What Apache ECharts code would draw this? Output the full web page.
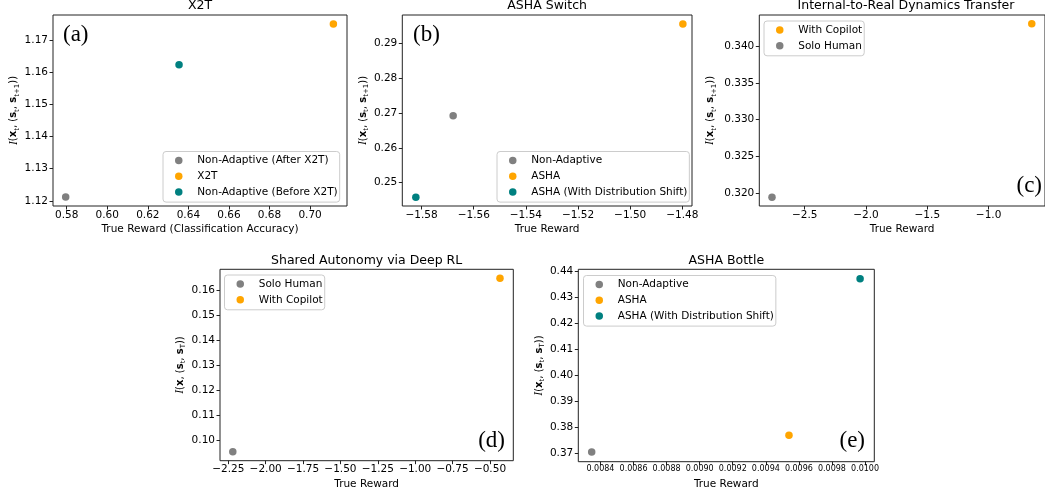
<!DOCTYPE html>
<html>
<head>
<meta charset="utf-8">
<script src="https://cdn.jsdelivr.net/npm/echarts@6/dist/echarts.min.js"></script>
<style>
html,body{margin:0;padding:0;background:#fff;}
#chart{width:1045px;height:494px;}
</style>
</head>
<body>
<div id="chart"></div>
<script>
// ---------------- DATA ----------------
const titleA = 'X2T';
const namesA = ['Non-Adaptive (After X2T)', 'X2T', 'Non-Adaptive (Before X2T)'];
const xA = [0.5795, 0.7115, 0.6354];
const yA = [1.1212, 1.1750, 1.1623];
const xTicksA = [0.58, 0.60, 0.62, 0.64, 0.66, 0.68, 0.70];
const yTicksA = [1.12, 1.13, 1.14, 1.15, 1.16, 1.17];

const titleB = 'ASHA Switch';
const namesB = ['Non-Adaptive', 'ASHA', 'ASHA (With Distribution Shift)'];
const xB = [-1.5679, -1.4798, -1.5822];
const yB = [0.2692, 0.2955, 0.2458];
const xTicksB = [-1.58, -1.56, -1.54, -1.52, -1.50, -1.48];
const yTicksB = [0.25, 0.26, 0.27, 0.28, 0.29];

const titleC = 'Internal-to-Real Dynamics Transfer';
const namesC = ['With Copilot', 'Solo Human'];
const xC = [-0.648, -2.767];
const yC = [0.3430, 0.3195];
const xTicksC = [-2.5, -2.0, -1.5, -1.0];
const yTicksC = [0.320, 0.325, 0.330, 0.335, 0.340];

const titleD = 'Shared Autonomy via Deep RL';
const namesD = ['Solo Human', 'With Copilot'];
const xD = [-2.22, -0.433];
const yD = [0.0953, 0.1647];
const xTicksD = [-2.25, -2.00, -1.75, -1.50, -1.25, -1.00, -0.75, -0.50];
const yTicksD = [0.10, 0.11, 0.12, 0.13, 0.14, 0.15, 0.16];

const titleE = 'ASHA Bottle';
const namesE = ['Non-Adaptive', 'ASHA', 'ASHA (With Distribution Shift)'];
const xE = [0.008347, 0.00954, 0.00997];
const yE = [0.3705, 0.3770, 0.4373];
const xTicksE = [0.0084, 0.0086, 0.0088, 0.0090, 0.0092, 0.0094, 0.0096, 0.0098, 0.0100];
const yTicksE = [0.37, 0.38, 0.39, 0.40, 0.41, 0.42, 0.43, 0.44];

const panelLabels = ['(a)', '(b)', '(c)', '(d)', '(e)'];
const xAxisNames = ['True Reward (Classification Accuracy)', 'True Reward', 'True Reward', 'True Reward', 'True Reward'];

// ---------------- STYLE / LAYOUT ----------------
const colorOf = {
  'Non-Adaptive (After X2T)': '#808080',
  'X2T': '#ffa500',
  'Non-Adaptive (Before X2T)': '#008080',
  'Non-Adaptive': '#808080',
  'ASHA': '#ffa500',
  'ASHA (With Distribution Shift)': '#008080',
  'With Copilot': '#ffa500',
  'Solo Human': '#808080'
};
const FONT = 'DejaVu Sans';
const SPINE = '#222';

const panels = [
  {title: titleA, names: namesA, xs: xA, ys: yA, xt: xTicksA, yt: yTicksA, xd: 2, yd: 2,
   grid: {left: 53, top: 15, width: 294, height: 191},
   xr: [0.57325, 0.71821], yr: [1.1184, 1.1778], yName: 'a', yGap: 31, xGap: 18,
   legend: {left: 163, top: 151.5}, label: {x: 63, y: 35, align: 'left'}, xFont: 10.5},
  {title: titleB, names: namesB, xs: xB, ys: yB, xt: xTicksB, yt: yTicksB, xd: 2, yd: 2,
   grid: {left: 402.3, top: 15, width: 289.7, height: 191},
   xr: [-1.5874, -1.4763], yr: [0.2433, 0.2981], yName: 'a', yGap: 31, xGap: 18,
   legend: {left: 497, top: 151.5}, label: {x: 413, y: 35, align: 'left'}, xFont: 10.5},
  {title: titleC, names: namesC, xs: xC, ys: yC, xt: xTicksC, yt: yTicksC, xd: 1, yd: 3,
   grid: {left: 759.3, top: 15, width: 294, height: 191},
   xr: [-2.8706, -0.540], yr: [0.3183, 0.3442], yName: 'a', yGap: 42, xGap: 18,
   legend: {left: 764, top: 21}, label: {x: 1042, y: 186, align: 'right'}, xFont: 10.5},
  {title: titleD, names: namesD, xs: xD, ys: yD, xt: xTicksD, yt: yTicksD, xd: 2, yd: 2,
   grid: {left: 220, top: 269.3, width: 293.3, height: 191.4},
   xr: [-2.3056, -0.344], yr: [0.0917, 0.1683], yName: 'd', yGap: 33, xGap: 18,
   legend: {left: 224.5, top: 275}, label: {x: 505, y: 440.5, align: 'right'}, xFont: 10.5},
  {title: titleE, names: namesE, xs: xE, ys: yE, xt: xTicksE, yt: yTicksE, xd: 4, yd: 2,
   grid: {left: 578.3, top: 269.3, width: 296, height: 192.4},
   xr: [0.008266, 0.010056], yr: [0.36676, 0.4409], yName: 'e', yGap: 30.5, xGap: 17.5,
   legend: {left: 583.5, top: 275.5}, label: {x: 865, y: 440.5, align: 'right'}, xFont: 8}
];

const richY = {
  i: {fontFamily: 'Liberation Serif', fontStyle: 'italic', fontSize: 11.5, lineHeight: 14, color: '#000'},
  n: {fontFamily: FONT, fontSize: 10, lineHeight: 14, color: '#000'},
  b: {fontFamily: FONT, fontWeight: 'bold', fontSize: 10, lineHeight: 14, color: '#000'},
  s: {fontFamily: FONT, fontSize: 7, lineHeight: 6, verticalAlign: 'bottom', color: '#000'}
};
const yNames = {
  a: '{i|I}{n|(}{b|x}{s|t}{n|, (}{b|s}{s|t}{n|, }{b|s}{s|t+1}{n|))}',
  d: '{i|I}{n|(}{b|x}{n|, (}{b|s}{s|t}{n|, }{b|s}{s|T}{n|))}',
  e: '{i|I}{n|(}{b|x}{s|t}{n|, (}{b|s}{s|t}{n|, }{b|s}{s|T}{n|))}'
};

function fmt(d) {
  return function (v) { return v.toFixed(d).replace('-', '\u2212'); };
}

const grids = [], xAxes = [], yAxes = [], series = [], legends = [], graphics = [];

panels.forEach(function (p, k) {
  grids.push(Object.assign({show: true, borderColor: SPINE, borderWidth: 1, backgroundColor: 'transparent', containLabel: false}, p.grid));
  xAxes.push({
    type: 'value', gridIndex: k, min: p.xr[0], max: p.xr[1],
    name: xAxisNames[k], nameLocation: 'middle', nameGap: p.xGap,
    nameTextStyle: {fontFamily: FONT, fontSize: 10.5, color: '#000'},
    axisLine: {show: false},
    splitLine: {show: false},
    axisTick: {show: true, inside: false, length: 3.5, lineStyle: {color: SPINE, width: 1}, customValues: p.xt},
    axisLabel: {show: true, margin: 3.5, fontFamily: FONT, fontSize: p.xFont, color: '#000', customValues: p.xt, formatter: fmt(p.xd)}
  });
  yAxes.push({
    type: 'value', gridIndex: k, min: p.yr[0], max: p.yr[1],
    name: yNames[p.yName], nameLocation: 'middle', nameGap: p.yGap, nameRotate: 90,
    nameTextStyle: {fontFamily: FONT, fontSize: 10, color: '#000', rich: richY},
    axisLine: {show: false},
    splitLine: {show: false},
    axisTick: {show: true, inside: false, length: 3.5, lineStyle: {color: SPINE, width: 1}, customValues: p.yt},
    axisLabel: {show: true, margin: 5, fontFamily: FONT, fontSize: 10.5, color: '#000', customValues: p.yt, formatter: fmt(p.yd)}
  });
  p.names.forEach(function (nm, j) {
    series.push({
      type: 'scatter', name: nm, xAxisIndex: k, yAxisIndex: k,
      symbol: 'circle', symbolSize: 7.5,
      itemStyle: {color: colorOf[nm], opacity: 1},
      emphasis: {disabled: true},
      data: [[p.xs[j], p.ys[j]]]
    });
  });
  legends.push({
    orient: 'vertical', left: p.legend.left, top: p.legend.top,
    data: p.names.map(function (nm) { return {name: nm, icon: 'circle'}; }),
    itemWidth: 27, itemHeight: 7.5, itemGap: 1.8,
    padding: [2, 2, 3, 12],
    backgroundColor: 'rgba(255,255,255,0.8)', borderColor: '#cccccc', borderWidth: 1, borderRadius: 3,
    selectedMode: false,
    textStyle: {fontFamily: FONT, fontSize: 10.5, color: '#000', lineHeight: 14}
  });
  const cx = p.grid.left + p.grid.width / 2;
  graphics.push({
    type: 'text', x: k === 2 ? 906 : cx, y: k < 3 ? 6 : 260.6,
    style: {text: p.title, fontFamily: FONT, fontSize: 12.5, fill: '#000', align: 'center', verticalAlign: 'middle'}
  });
  graphics.push({
    type: 'text', x: p.label.x, y: p.label.y, z: 100,
    style: {text: panelLabels[k], fontFamily: 'Liberation Serif', fontSize: 23, fill: '#000', align: p.label.align, verticalAlign: 'middle'}
  });
});

const chart = echarts.init(document.getElementById('chart'), null, {renderer: 'canvas'});
chart.setOption({
  animation: false,
  backgroundColor: '#fff',
  grid: grids,
  xAxis: xAxes,
  yAxis: yAxes,
  legend: legends,
  series: series,
  graphic: graphics
});
</script>
</body>
</html>
